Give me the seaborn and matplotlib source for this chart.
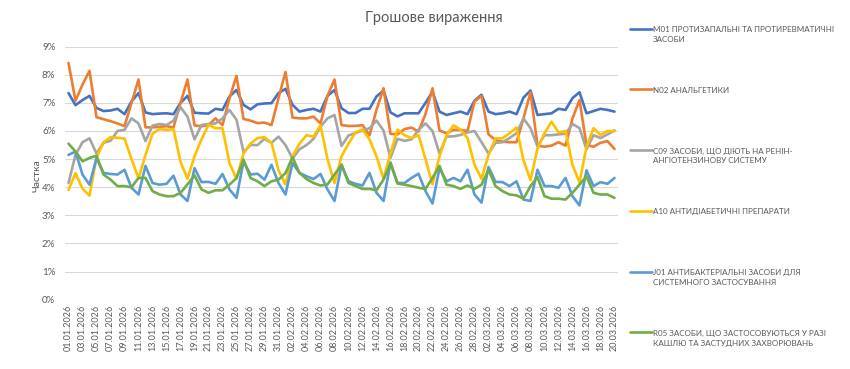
import numpy as np
import pandas as pd
import matplotlib
matplotlib.use("Agg")
import matplotlib.pyplot as plt
import seaborn as sns

# daily share of money volume, %, 01.01.2026 .. 20.03.2026
dates = pd.date_range("2026-01-01", "2026-03-20", freq="D")

m01 = [7.35, 6.92, 7.10, 7.25, 6.82, 6.71, 6.73, 6.79, 6.60, 7.05,
       7.35, 6.66, 6.60, 6.62, 6.63, 6.60, 7.00, 7.25, 6.65, 6.63,
       6.62, 6.79, 6.75, 7.23, 7.46, 6.93, 6.77, 6.95, 6.98, 6.99,
       7.35, 7.50, 6.93, 6.69, 6.75, 6.79, 6.69, 7.25, 7.46, 6.81,
       6.64, 6.64, 6.79, 6.79, 7.23, 7.44, 6.66, 6.52, 6.63, 6.63,
       6.63, 7.00, 7.40, 6.69, 6.57, 6.63, 6.69, 6.60, 7.08, 7.29,
       6.69, 6.60, 6.63, 6.69, 6.60, 7.19, 7.44, 6.57, 6.60, 6.63,
       6.79, 6.75, 7.17, 7.38, 6.63, 6.71, 6.79, 6.75, 6.69]

n02 = [8.42, 7.08, 7.65, 8.14, 6.49, 6.42, 6.35, 6.27, 6.17, 7.00,
       7.83, 6.13, 6.13, 6.15, 6.17, 6.13, 7.00, 7.83, 6.20, 6.17,
       6.21, 6.45, 6.21, 7.17, 7.96, 6.43, 6.37, 6.28, 6.30, 6.21,
       7.17, 8.10, 6.48, 6.45, 6.45, 6.51, 6.27, 7.25, 7.83, 6.21,
       6.18, 6.18, 6.21, 5.85, 6.75, 7.52, 5.90, 5.88, 6.07, 6.12,
       5.98, 6.60, 7.52, 6.02, 5.92, 6.04, 6.04, 6.00, 7.05, 7.25,
       5.88, 5.68, 5.62, 5.60, 5.60, 6.45, 7.38, 5.48, 5.44, 5.48,
       5.60, 5.48, 6.45, 7.10, 5.50, 5.44, 5.58, 5.64, 5.36]

c09 = [4.15, 5.15, 5.60, 5.74, 5.20, 5.58, 5.65, 6.00, 6.04, 6.45,
       6.27, 5.64, 6.19, 6.25, 6.21, 6.37, 6.85, 6.51, 5.70, 6.21,
       6.25, 6.27, 6.45, 6.75, 6.40, 5.25, 5.50, 5.50, 5.72, 5.58,
       5.80, 5.50, 5.02, 5.35, 5.50, 5.72, 6.15, 6.45, 6.57, 5.47,
       5.84, 5.93, 6.02, 6.10, 6.37, 6.02, 5.05, 5.72, 5.65, 5.70,
       6.04, 6.27, 6.00, 5.20, 5.80, 5.81, 5.86, 5.95, 6.00, 5.60,
       5.20, 5.58, 5.60, 5.75, 5.92, 6.45, 6.10, 5.45, 5.85, 5.85,
       5.88, 5.90, 6.25, 6.10, 5.35, 5.85, 5.75, 5.88, 6.02]

a10 = [3.90, 4.50, 3.95, 3.70, 5.05, 5.60, 5.78, 5.76, 5.73, 5.00,
       4.32, 5.14, 5.90, 6.07, 6.04, 6.07, 4.90, 4.30, 5.10, 5.70,
       6.22, 6.10, 6.10, 4.85, 4.30, 5.20, 5.55, 5.75, 5.78, 5.58,
       4.60, 4.10, 5.10, 5.55, 5.85, 5.80, 6.20, 5.00, 4.15, 5.10,
       5.55, 5.95, 6.05, 5.70, 5.10, 4.30, 5.20, 6.05, 5.85, 5.75,
       5.85, 5.00, 4.10, 5.10, 5.85, 6.20, 6.05, 5.75, 4.80, 4.30,
       5.14, 5.74, 5.74, 5.92, 6.12, 4.96, 4.25, 5.38, 5.92, 6.33,
       5.95, 6.00, 4.79, 4.17, 5.44, 6.10, 5.86, 6.00, 6.00]

j01 = [5.15, 5.27, 4.45, 4.09, 5.04, 4.51, 4.47, 4.45, 4.62, 3.98,
       3.74, 4.76, 4.15, 4.09, 4.12, 4.41, 3.74, 3.51, 4.68, 4.18,
       4.19, 4.12, 4.47, 3.92, 3.62, 4.92, 4.45, 4.48, 4.27, 4.80,
       4.15, 3.74, 4.86, 4.51, 4.39, 4.29, 4.47, 3.92, 3.51, 4.80,
       4.21, 4.12, 4.06, 4.51, 3.80, 3.51, 4.88, 4.15, 4.15, 4.33,
       4.48, 3.86, 3.42, 4.68, 4.21, 4.33, 4.21, 4.62, 3.74, 3.45,
       4.72, 4.19, 4.18, 4.04, 4.21, 3.56, 3.51, 4.62, 4.04, 4.04,
       3.98, 4.33, 3.68, 3.35, 4.60, 4.04, 4.18, 4.12, 4.33]

r05 = [5.55, 5.27, 4.92, 5.04, 5.12, 4.45, 4.27, 4.04, 4.04, 4.00,
       4.33, 4.33, 3.86, 3.74, 3.68, 3.68, 3.80, 4.10, 4.42, 3.92,
       3.80, 3.89, 3.89, 4.09, 4.33, 4.98, 4.33, 4.21, 4.04, 4.21,
       4.27, 4.50, 5.07, 4.51, 4.29, 4.15, 4.06, 4.10, 4.45, 4.80,
       4.15, 4.04, 3.94, 3.94, 3.89, 4.27, 4.84, 4.13, 4.09, 4.04,
       3.98, 3.94, 4.33, 4.76, 4.09, 4.04, 3.94, 4.06, 3.94, 4.09,
       4.62, 4.04, 3.86, 3.74, 3.71, 3.59, 4.04, 4.36, 3.68, 3.59,
       3.59, 3.56, 3.80, 4.09, 4.39, 3.80, 3.74, 3.74, 3.62]

series_names = [
    "M01 ПРОТИЗАПАЛЬНІ ТА ПРОТИРЕВМАТИЧНІ\nЗАСОБИ",
    "N02 АНАЛЬГЕТИКИ\n ",
    "C09 ЗАСОБИ, ЩО ДІЮТЬ НА РЕНІН-\nАНГІОТЕНЗИНОВУ СИСТЕМУ",
    "A10 АНТИДІАБЕТИЧНІ ПРЕПАРАТИ\n ",
    "J01 АНТИБАКТЕРІАЛЬНІ ЗАСОБИ ДЛЯ\nСИСТЕМНОГО ЗАСТОСУВАННЯ",
    "R05 ЗАСОБИ, ЩО ЗАСТОСОВУЮТЬСЯ У РАЗІ\nКАШЛЮ ТА ЗАСТУДНИХ ЗАХВОРЮВАНЬ",
]
series_values = [m01, n02, c09, a10, j01, r05]
colors = ["#4472C4", "#ED7D31", "#A5A5A5", "#FFC000", "#5B9BD5", "#70AD47"]

# long table for seaborn
frames = []
for name, vals in zip(series_names, series_values):
    frames.append(pd.DataFrame({"day": np.arange(len(dates)), "share": vals, "series": name}))
df = pd.concat(frames, ignore_index=True)

sns.set_style("white")
plt.rcParams["font.family"] = ["Lato", "Liberation Sans", "DejaVu Sans"]
txt = "#595959"

fig = plt.figure(figsize=(8.5, 3.69), dpi=100)
ax = fig.add_axes([65 / 850, 1 - 299.6 / 369, 553 / 850, 252.9 / 369])

sns.lineplot(data=df, x="day", y="share", hue="series", hue_order=series_names,
             palette=colors, linewidth=1.9, ax=ax, legend=True)

ax.set_xlim(-0.5, len(dates) - 0.5)
ax.set_ylim(0, 9)
ax.set_yticks(range(0, 10))
ax.set_yticklabels([f"{v}%" for v in range(0, 10)], color=txt, fontsize=7)
ticks = np.arange(0, len(dates), 2)
ax.set_xticks(ticks)
ax.set_xticklabels([dates[i].strftime("%d.%m.%Y") for i in ticks],
                   rotation=90, color=txt, fontsize=6.5)
ax.tick_params(axis="both", length=0)
ax.tick_params(axis="y", pad=7)
ax.tick_params(axis="x", pad=4)
ax.grid(axis="y", color="#D9D9D9", linewidth=0.8)
ax.set_axisbelow(True)
for s in ax.spines.values():
    s.set_visible(False)
ax.set_xlabel("")
ax.set_ylabel("")

fig.text(37 / 850, 1 - 176 / 369, "Частка", rotation=90, ha="center", va="center",
         color=txt, fontsize=7.5)
fig.text(434 / 850, 1 - 18 / 369, "Грошове вираження", ha="center", va="center",
         color=txt, fontsize=10.5)

fs = 5.8
leg = ax.legend(loc="upper left", bbox_to_anchor=(630 / 850, 1 - 26 / 369),
                bbox_transform=fig.transFigure, frameon=False, fontsize=fs,
                handlelength=2.75, handletextpad=0.15, labelspacing=5.47,
                borderpad=0, borderaxespad=0)
for t in leg.get_texts():
    t.set_color(txt)
    t.set_linespacing(1.45)
# put the legend line next to the first text row
for ln in leg.get_lines():
    ln.set_linewidth(1.9)
    y = np.asarray(ln.get_ydata(), dtype=float)
    ln.set_ydata(y + 4.3)

fig.savefig("out.png", dpi=100)
